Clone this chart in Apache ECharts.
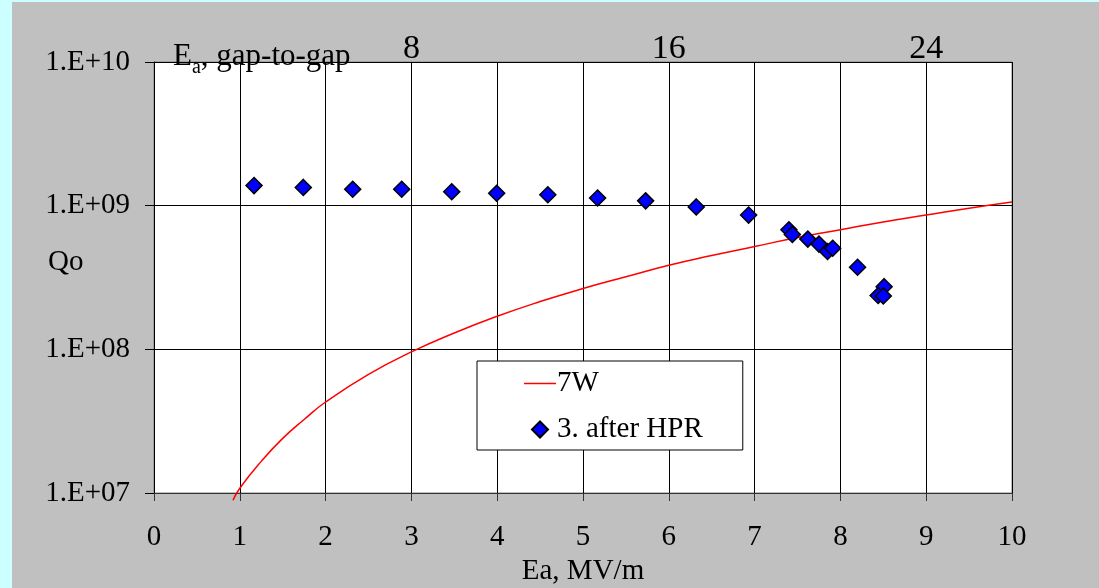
<!DOCTYPE html>
<html>
<head>
<meta charset="utf-8">
<script src="https://cdn.jsdelivr.net/npm/echarts@6/dist/echarts.min.js"></script>
<style>
  html, body { margin: 0; padding: 0; background: #ccffff; }
  #chart { width: 1099px; height: 588px; }
</style>
</head>
<body>
<div id="chart"></div>
<script>
// Measured Qo after high-pressure rinse (accelerating gradient, MV/m)
const hprEa = [1.166, 1.740, 2.316, 2.887, 3.470, 3.994, 4.59, 5.17, 5.73, 6.32, 6.93,
               7.40, 7.44, 7.62, 7.75, 7.85, 7.91, 8.20, 8.51, 8.44, 8.50];
const hprQ0 = [1.38e9, 1.34e9, 1.30e9, 1.30e9, 1.25e9, 1.22e9, 1.19e9, 1.13e9, 1.08e9, 9.8e8, 8.6e8,
               6.8e8, 6.3e8, 5.85e8, 5.4e8, 4.8e8, 5.05e8, 3.73e8, 2.73e8, 2.37e8, 2.35e8];

// Constant 7 W dissipated power line
const lineEa = [0.92, 1.0, 1.25, 1.5, 1.75, 2.0, 2.5, 3.0, 3.5, 4.0, 4.5, 5.0, 5.5,
                6.0, 6.5, 7.0, 7.5, 8.0, 8.5, 9.0, 9.5, 10.0];
const lineQ0 = [8.9e6, 1.08e7, 1.66e7, 2.4e7, 3.25e7, 4.3e7, 6.7e7, 9.6e7, 1.3e8, 1.7e8, 2.15e8, 2.65e8, 3.2e8,
                3.85e8, 4.5e8, 5.2e8, 6.0e8, 6.8e8, 7.7e8, 8.6e8, 9.6e8, 1.06e9];

// Secondary (gap-to-gap) gradient labels on the top axis
const topTickAt = [3, 6, 9];
const topTickLabels = ['8', '16', '24'];

const seriesNames = ['7W', '3. after HPR'];

const FONT = 'Liberation Serif';
const FS = 29;

const chart = echarts.init(document.getElementById('chart'));

chart.setOption({
  backgroundColor: '#ccffff',
  animation: false,
  textStyle: { fontFamily: FONT, color: '#000' },
  graphic: [
    {
      type: 'rect', z: -10, silent: true,
      shape: { x: 12, y: 2, width: 1087, height: 586 },
      style: { fill: '#c0c0c0' }
    },
    {
      type: 'text', left: 48, top: 248, silent: true,
      style: { text: 'Qo', font: FS + 'px "Liberation Serif"', fill: '#000' }
    },
    {
      type: 'text', left: 173, top: 41, silent: true, z: 10,
      style: {
        text: '{e|E}{s|a}{e|, gap-to-gap}',
        rich: {
          e: { fontFamily: FONT, fontSize: 31, fill: '#000', verticalAlign: 'bottom' },
          s: { fontFamily: FONT, fontSize: 20, fill: '#000', padding: [0, 0, -6, 0], verticalAlign: 'bottom' }
        }
      }
    }
  ],
  grid: {
    left: 154, right: 87, top: 62, bottom: 95,
    outerBoundsMode: 'none',
    show: true, backgroundColor: '#ffffff', borderColor: '#808080', borderWidth: 1
  },
  legend: {
    orient: 'vertical',
    left: 477, top: 361,
    backgroundColor: '#ffffff',
    borderColor: '#000',
    borderWidth: 1,
    padding: [8, 40, 6, 47],
    itemWidth: 32,
    itemHeight: 16,
    itemGap: 17,
    symbolKeepAspect: true,
    textStyle: { fontFamily: FONT, fontSize: FS, lineHeight: 28, color: '#000', padding: [0, 0, 0, -4] },
    data: [
      { name: seriesNames[0], icon: 'path://M0,0L32,0L32,1.5L0,1.5Z' },
      { name: seriesNames[1], icon: 'path://M16,0L24,8L16,16L8,8Z' }
    ]
  },
  xAxis: [
    {
      type: 'value', min: 0, max: 10, interval: 1, position: 'bottom',
      name: 'Ea, MV/m', nameLocation: 'middle', nameGap: 48,
      nameTextStyle: { fontFamily: FONT, fontSize: FS, color: '#000' },
      axisLine: { lineStyle: { color: '#333', width: 1 } },
      axisTick: { show: true, inside: false, length: 8, lineStyle: { color: '#333' } },
      axisLabel: { margin: 30, fontFamily: FONT, fontSize: FS, color: '#000' },
      splitLine: { show: true, lineStyle: { color: '#000', width: 1 } }
    },
    {
      type: 'value', min: 0, max: 10, interval: 1, position: 'top',
      axisLine: { show: false }, axisTick: { show: false }, splitLine: { show: false },
      axisLabel: {
        margin: -4, fontFamily: FONT, fontSize: 34, color: '#000',
        formatter: v => {
          const i = topTickAt.indexOf(v);
          return i >= 0 ? topTickLabels[i] : '';
        }
      }
    }
  ],
  yAxis: {
    type: 'log', logBase: 10, min: 1e7, max: 1e10,
    axisLine: { show: true, lineStyle: { color: '#000', width: 1 } },
    axisTick: { show: true, inside: false, length: 9, lineStyle: { color: '#000' } },
    minorTick: { show: false },
    axisLabel: {
      margin: 24, fontFamily: FONT, fontSize: FS, color: '#000',
      formatter: v => {
        const e = Math.round(Math.log10(v));
        return '1.E+' + (e < 10 ? '0' + e : String(e));
      }
    },
    splitLine: { show: true, lineStyle: { color: '#000', width: 1 } }
  },
  series: [
    {
      name: seriesNames[0], type: 'line', xAxisIndex: 0,
      data: lineEa.map((x, i) => [x, lineQ0[i]]),
      smooth: true, symbol: 'none', clip: false,
      lineStyle: { color: '#ff0000', width: 1.5 },
      itemStyle: { color: '#ff0000' },
      z: 3
    },
    {
      name: seriesNames[1], type: 'scatter', xAxisIndex: 0,
      data: hprEa.map((x, i) => [x, hprQ0[i]]),
      symbol: 'diamond', symbolSize: 16,
      itemStyle: { color: '#0000ff', borderColor: '#000', borderWidth: 1.5, opacity: 1 },
      z: 4
    }
  ]
});
</script>
</body>
</html>
